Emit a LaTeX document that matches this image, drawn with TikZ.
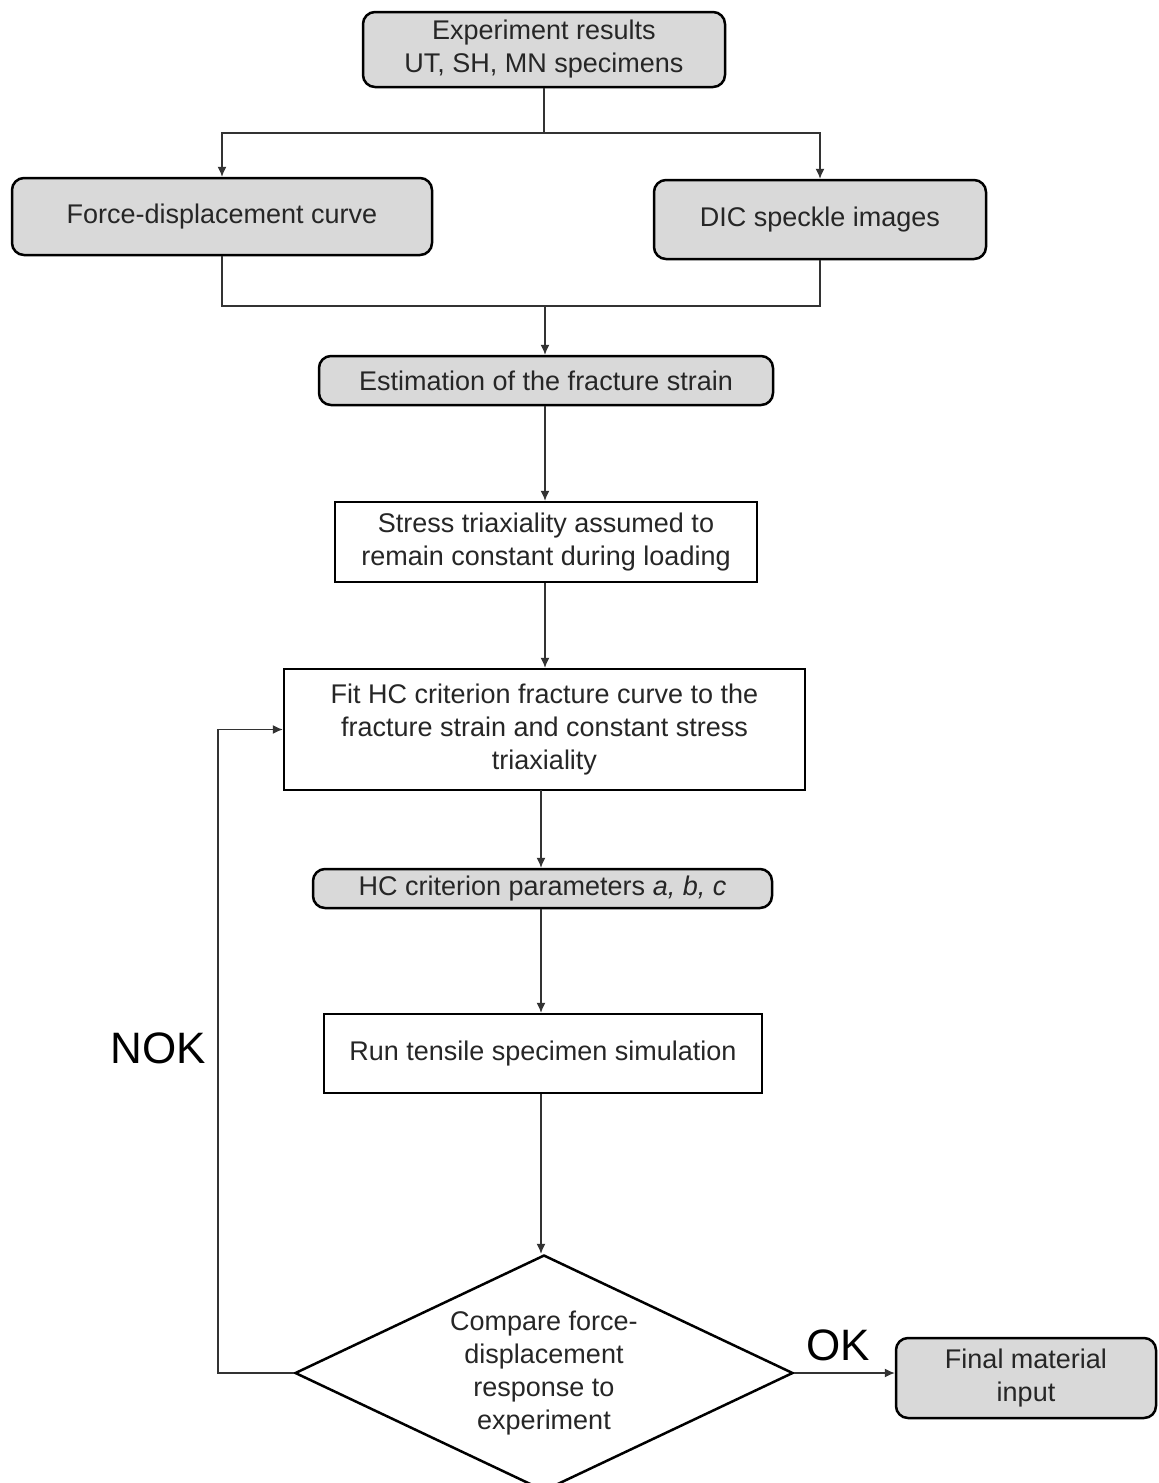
\documentclass[tikz,border=0pt]{standalone}
\usepackage{fontspec}
\setmainfont{Liberation Sans}
\usetikzlibrary{shapes.geometric,arrows.meta}
\definecolor{boxgray}{HTML}{D9D9D9}
\definecolor{txt}{HTML}{262626}
\begin{document}
\begin{tikzpicture}[x=0.5pt,y=-0.5pt,
  every node/.style={font=\fontsize{13.5}{16.5}\selectfont, text=txt, align=center, inner sep=0pt},
  graybox/.style={draw=black, line width=1.25pt, fill=boxgray, rounded corners=6pt},
  whitebox/.style={draw=black, line width=1.25pt, fill=white},
  conn/.style={draw=black!80, line width=0.6pt},
  arr/.style={conn, -{Latex[length=5pt,width=4.5pt]}},
  biglabel/.style={font=\fontsize{22}{26}\selectfont, text=black}
]
\useasboundingbox (0,0) rectangle (1158,1483);
\clip (0,0) rectangle (1158,1483);

\node[graybox, minimum width=181pt, minimum height=37.5pt] (exp) at (544,49.5) {Experiment results\\UT, SH, MN specimens};
\node[graybox, minimum width=210pt, minimum height=38.5pt] (fd) at (222,216.5) {Force-displacement curve};
\node[graybox, minimum width=166pt, minimum height=39.5pt] (dic) at (820,219.5) {DIC speckle images};
\node[graybox, minimum width=227pt, minimum height=24.5pt] (est) at (546,380.5) {Estimation of the fracture strain};
\node[whitebox, minimum width=211pt, minimum height=40pt] (st) at (546,542) {Stress triaxiality assumed to\\remain constant during loading};
\node[whitebox, minimum width=260.5pt, minimum height=60.5pt] (fit) at (544.5,729.5) {Fit HC criterion fracture curve to the\\fracture strain and constant stress\\triaxiality};
\node[graybox, minimum width=229.5pt, minimum height=19.5pt] (hc) at (542.5,888.5) {HC criterion parameters \textit{a, b, c}};
\node[whitebox, minimum width=219pt, minimum height=39.5pt] (run) at (543,1053.5) {Run tensile specimen simulation};
\node[draw=black, line width=1.25pt, fill=white, shape=diamond, aspect=2.11, minimum width=249pt, minimum height=118pt] (cmp) at (544,1373) {};
\node (cmptext) at (544,1373.5) {Compare force-\\displacement\\response to\\experiment};
\node[graybox, minimum width=130pt, minimum height=40pt] (fin) at (1026,1378) {Final material\\input};

\coordinate (split) at (544,133);
\draw[conn] (exp.south) -- (split);
\draw[arr] (split) -| (fd.north);
\draw[arr] (split) -| (dic.north);
\coordinate (merge) at (545,306);
\draw[conn] (fd.south) |- (merge);
\draw[conn] (dic.south) |- (merge);
\draw[arr] (merge) -- (est.north -| merge);
\draw[arr] (est.south -| merge) -- (st.north -| merge);
\draw[arr] (st.south -| merge) -- (fit.north -| merge);
\draw[arr] (541,790) -- (hc.north -| 541,0);
\draw[arr] (hc.south -| 541,0) -- (run.north -| 541,0);
\draw[arr] (run.south -| 541,0) -- (cmp.north -| 541,0);
\coordinate (nok) at (218,1373);
\draw[arr] (cmp.west) -- (nok) |- (fit.west);
\draw[arr] (cmp.east) -- (fin.west |- cmp.east);
\node[biglabel] (noklabel) at (158,1048) {NOK};
\node[biglabel] (oklabel) at (838,1345) {OK};
\end{tikzpicture}
\end{document}
